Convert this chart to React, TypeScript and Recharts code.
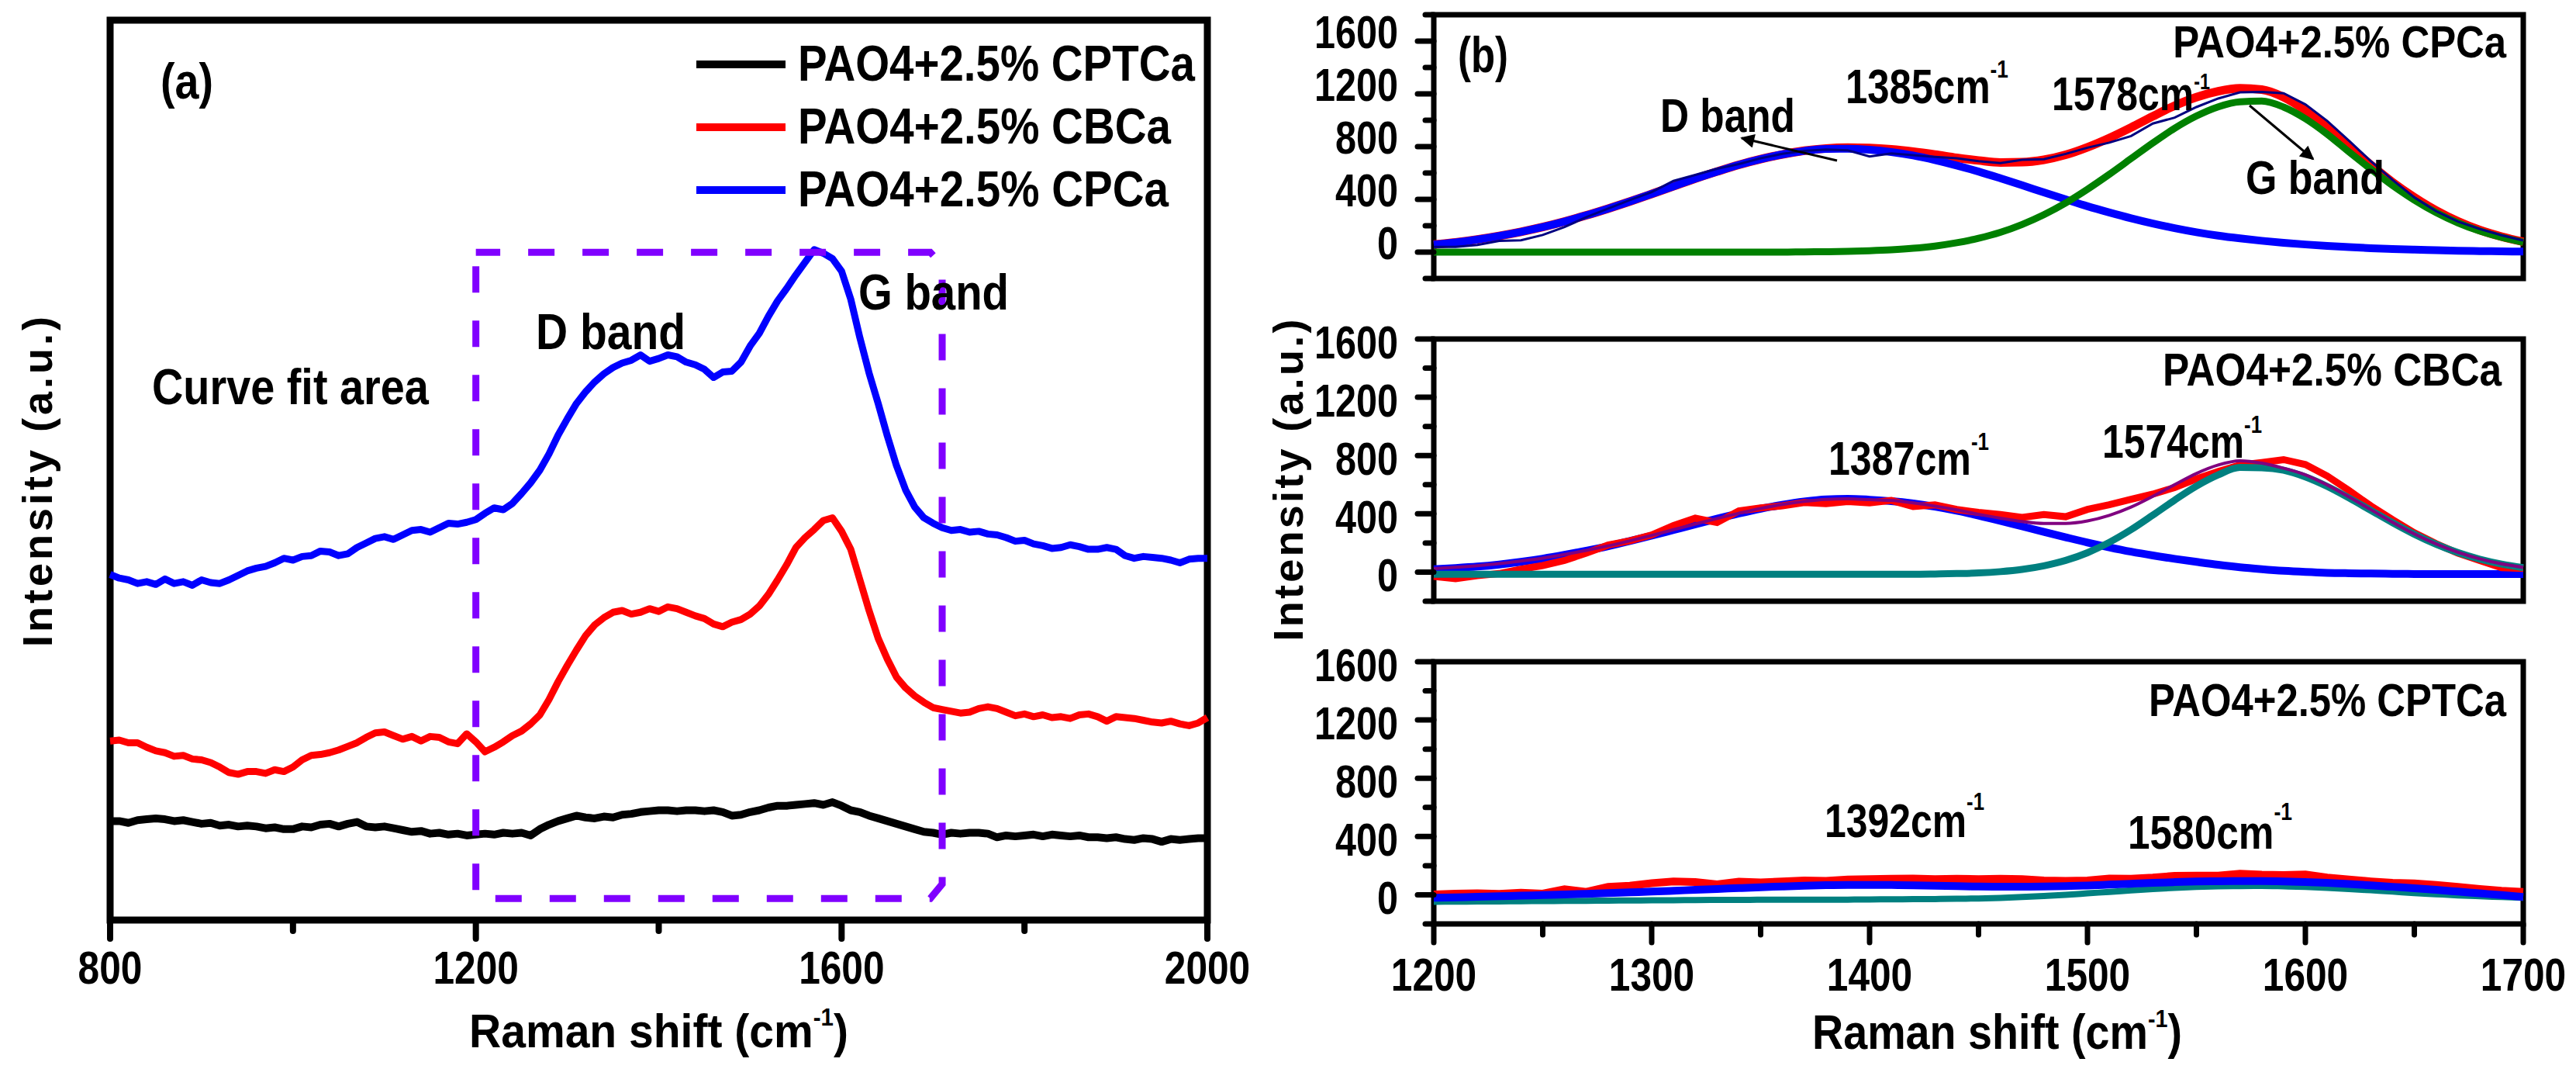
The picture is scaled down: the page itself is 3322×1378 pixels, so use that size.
import React from "react";
import { LineChart, Line, XAxis, YAxis, ReferenceArea, Legend } from "recharts";

const FONT = "'Liberation Sans', Arial, Helvetica, sans-serif";

// ---------- panel (a): full Raman spectra ----------
const shiftA = [
  800, 810, 820, 830, 840, 850, 860, 870, 880, 890,
  900, 910, 920, 930, 940, 950, 960, 970, 980, 990,
  1000, 1010, 1020, 1030, 1040, 1050, 1060, 1070, 1080, 1090,
  1100, 1110, 1120, 1130, 1140, 1150, 1160, 1170, 1180, 1190,
  1200, 1210, 1220, 1230, 1240, 1250, 1260, 1270, 1280, 1290,
  1300, 1310, 1320, 1330, 1340, 1350, 1360, 1370, 1380, 1390,
  1400, 1410, 1420, 1430, 1440, 1450, 1460, 1470, 1480, 1490,
  1500, 1510, 1520, 1530, 1540, 1550, 1560, 1570, 1580, 1590,
  1600, 1610, 1620, 1630, 1640, 1650, 1660, 1670, 1680, 1690,
  1700, 1710, 1720, 1730, 1740, 1750, 1760, 1770, 1780, 1790,
  1800, 1810, 1820, 1830, 1840, 1850, 1860, 1870, 1880, 1890,
  1900, 1910, 1920, 1930, 1940, 1950, 1960, 1970, 1980, 1990, 2000,
];

const cptcaA = [
  110, 110, 108, 111, 112, 113, 112, 110, 111, 109,
  107, 108, 105, 106, 104, 105, 104, 102, 103, 101,
  101, 104, 103, 106, 107, 104, 107, 109, 104, 103,
  104, 102, 100, 98, 99, 96, 97, 95, 96, 94,
  95, 96, 95, 97, 96, 97, 94, 101, 106, 110,
  113, 116, 114, 113, 115, 114, 117, 118, 120, 121,
  122, 122, 121, 122, 122, 121, 122, 120, 116, 117,
  120, 122, 125, 127, 127, 128, 129, 130, 128, 131,
  127, 122, 120, 116, 113, 110, 107, 104, 101, 98,
  97, 95, 97, 96, 97, 97, 96, 92, 94, 93,
  94, 95, 93, 95, 94, 93, 94, 92, 92, 91,
  92, 90, 89, 91, 90, 87, 90, 89, 90, 91, 91,
];

const cbcaA = [
  199, 200, 197, 197, 192, 188, 186, 182, 183, 179,
  178, 175, 170, 164, 162, 165, 165, 163, 167, 165,
  170, 178, 183, 184, 186, 189, 193, 197, 203, 208,
  209, 205, 201, 204, 199, 204, 203, 198, 196, 207,
  198, 187, 192, 198, 205, 210, 218, 228, 245, 265,
  283, 300, 316, 328, 336, 342, 344, 340, 342, 346,
  343, 348, 346, 342, 338, 335, 329, 326, 331, 334,
  340, 349, 362, 378, 395, 414, 425, 434, 444, 447,
  432, 412, 378, 344, 313, 290, 270, 258, 249, 242,
  236, 234, 232, 230, 231, 235, 237, 235, 231, 227,
  229, 226, 228, 225, 226, 224, 228, 229, 226, 221,
  226, 225, 224, 222, 220, 219, 221, 218, 216, 219, 225,
];

const cpcaA = [
  384, 380, 378, 374, 376, 373, 379, 374, 376, 372,
  378, 375, 374, 378, 383, 388, 391, 393, 397, 402,
  400, 404, 405, 410, 409, 405, 407, 414, 419, 424,
  426, 423, 428, 433, 434, 431, 436, 441, 440, 442,
  445, 452, 458, 456, 463, 474, 486, 500, 518, 539,
  557, 574, 587, 598, 607, 614, 619, 622, 628, 621,
  624, 628, 626, 620, 617, 612, 603, 609, 610, 620,
  638, 652, 671, 688, 702, 717, 731, 745, 741, 735,
  721, 690, 647, 608, 574, 538, 505, 478, 459, 447,
  441, 436, 433, 434, 431, 432, 429, 428, 425, 421,
  422, 418, 416, 413, 414, 417, 415, 412, 412, 414,
  412, 405, 402, 404, 403, 402, 400, 397, 401, 402, 402,
];

// outline of the fitted window (chamfered on the right)
const boxShift = [1200, 1200, 1697, 1710, 1710, 1697, 1200];
const boxLevel = [742, 24, 24, 40, 728, 742, 742];

const ticksA = [800, 1000, 1200, 1400, 1600, 1800, 2000];

const seriesA = [
  { key: "cptca", name: "PAO4+2.5% CPTCa", color: "#000000", width: 10, legendW: 512 },
  { key: "cbca", name: "PAO4+2.5% CBCa", color: "#ff0000", width: 9, legendW: 481 },
  { key: "cpca", name: "PAO4+2.5% CPCa", color: "#0000ff", width: 9, legendW: 478 },
];

const rowsA = shiftA.map((x, i) => ({ x, cptca: cptcaA[i], cbca: cbcaA[i], cpca: cpcaA[i] }));
const boxRows = boxShift.map((x, i) => ({ x, y: boxLevel[i] }));

// ---------- panel (b): curve-fitted D and G bands ----------
const shiftB = [
  1200, 1210, 1220, 1230, 1240, 1250, 1260, 1270, 1280, 1290,
  1300, 1310, 1320, 1330, 1340, 1350, 1360, 1370, 1380, 1390,
  1400, 1410, 1420, 1430, 1440, 1450, 1460, 1470, 1480, 1490,
  1500, 1510, 1520, 1530, 1540, 1550, 1560, 1570, 1580, 1590,
  1600, 1610, 1620, 1630, 1640, 1650, 1660, 1670, 1680, 1690, 1700,
];
const ticksB = [1200, 1250, 1300, 1350, 1400, 1450, 1500, 1550, 1600, 1650, 1700];

// CPCa
const cpcaRaw = [
  40, 40, 55, 85, 90, 130, 190, 265, 330, 395,
  455, 540, 585, 632, 668, 712, 745, 768, 778, 772,
  725, 748, 735, 722, 712, 690, 675, 700, 705, 745,
  792, 830, 880, 975, 1020, 1100, 1165, 1212, 1215, 1205,
  1120, 995, 845, 690, 548, 415, 310, 232, 176, 128, 88,
];
const cpcaFit = [
  57, 74, 96, 123, 154, 190, 232, 279, 330, 384,
  441, 499, 557, 611, 662, 705, 741, 769, 786, 792,
  789, 779, 762, 740, 715, 695, 680, 682, 700, 738,
  795, 865, 945, 1030, 1110, 1175, 1220, 1242, 1232, 1175,
  1075, 948, 802, 662, 530, 415, 316, 234, 168, 118, 79,
];
const cpcaD = [
  57, 74, 96, 123, 154, 190, 232, 279, 330, 384,
  441, 499, 557, 611, 662, 705, 741, 767, 783, 784,
  776, 759, 733, 698, 657, 611, 560, 507, 453, 400,
  348, 301, 257, 217, 182, 151, 125, 104, 86, 71,
  58, 47, 38, 30, 24, 19, 15, 11, 8, 6, 4,
];
const cpcaG = [
  0, 0, 0, 0, 0, 0, 0, 0, 0, 0,
  0, 0, 0, 0, 0, 0, 0, 2, 3, 6,
  11, 18, 29, 46, 71, 105, 150, 210, 284, 373,
  477, 590, 709, 828, 939, 1032, 1102, 1140, 1145, 1100,
  1012, 895, 760, 630, 505, 395, 300, 222, 160, 112, 75,
];

// CBCa
const cbcaRaw = [
  -30, -45, -25, -10, 20, 45, 80, 130, 185, 215,
  255, 320, 370, 340, 420, 440, 455, 478, 470, 484,
  475, 492, 450, 462, 430, 410, 395, 375, 395, 380,
  430, 462, 500, 535, 580, 640, 690, 735, 752, 772,
  738, 660, 560, 455, 360, 270, 195, 130, 80, 30, 25,
];
const cbcaFit = [
  24, 33, 44, 58, 76, 96, 121, 149, 180, 215,
  252, 291, 330, 368, 404, 437, 464, 485, 499, 503,
  497, 492, 475, 453, 427, 397, 370, 347, 334, 334,
  351, 389, 446, 520, 600, 677, 735, 764, 748, 713,
  668, 598, 516, 429, 342, 262, 193, 136, 91, 57, 32,
];
const cbcaD = [
  20, 28, 38, 52, 70, 92, 118, 147, 178, 213,
  250, 289, 328, 366, 402, 435, 462, 484, 499, 503,
  497, 487, 471, 449, 421, 388, 352, 314, 276, 239,
  203, 170, 140, 114, 91, 70, 50, 33, 20, 9,
  1, -5, -8, -10, -12, -13, -13, -13, -13, -13, -13,
];
const cbcaG = [
  -15, -15, -15, -15, -15, -15, -15, -15, -15, -15,
  -15, -15, -15, -15, -15, -15, -15, -15, -15, -15,
  -15, -15, -15, -13, -10, -6, 3, 18, 43, 80,
  133, 204, 291, 391, 494, 590, 667, 718, 716, 699,
  653, 588, 509, 424, 339, 260, 191, 134, 89, 55, 30,
];

// CPTCa
const cptcaRaw = [
  3, 8, 10, 6, 14, 8, 38, 20, 55, 62,
  80, 92, 88, 72, 90, 85, 92, 98, 96, 105,
  108, 110, 112, 108, 110, 108, 110, 108, 98, 96,
  98, 112, 110, 118, 130, 132, 132, 145, 138, 136,
  140, 118, 105, 92, 82, 78, 68, 55, 40, 28, 20,
];
const cptcaFit = [
  -20, -17, -14, -10, -6, -2, 2, 7, 12, 17,
  22, 28, 34, 40, 46, 52, 57, 62, 66, 68,
  68, 67, 65, 62, 59, 57, 56, 56, 57, 60,
  64, 70, 76, 82, 87, 91, 93, 94, 94, 92,
  88, 82, 74, 65, 55, 45, 34, 22, 10, -2, -15,
];
const cptcaG = [
  -48, -47, -46, -45, -44, -43, -42, -41, -40, -39,
  -38, -37, -36, -35, -35, -34, -34, -34, -33, -33,
  -32, -31, -30, -29, -27, -25, -21, -15, -8, 0,
  10, 20, 30, 40, 48, 54, 58, 60, 61, 58,
  54, 48, 40, 31, 22, 12, 4, -4, -10, -15, -20,
];

const rowsB1 = shiftB.map((x, i) => ({ x, raw: cpcaRaw[i], fit: cpcaFit[i], d: cpcaD[i], g: cpcaG[i] }));
const rowsB2 = shiftB.map((x, i) => ({ x, raw: cbcaRaw[i], fit: cbcaFit[i], d: cbcaD[i], g: cbcaG[i] }));
const rowsB3 = shiftB.map((x, i) => ({ x, raw: cptcaRaw[i], fit: cptcaFit[i], g: cptcaG[i] }));

const ticksY1 = [-200, 0, 200, 400, 600, 800, 1000, 1200, 1400, 1600, 1800];
const ticksY2 = [-200, 0, 200, 400, 600, 800, 1000, 1200, 1400, 1600];

// ---------- text helpers ----------
// the figure uses a tall, condensed bold face: draw Liberation Sans Bold and squeeze it horizontally
let measureCtx: CanvasRenderingContext2D | null = null;
function textWidth(t: string, size: number) {
  if (typeof document !== "undefined") {
    if (!measureCtx) measureCtx = document.createElement("canvas").getContext("2d");
    if (measureCtx) {
      measureCtx.font = `700 ${size}px 'Liberation Sans', Arial, sans-serif`;
      return measureCtx.measureText(t).width;
    }
  }
  return t.length * size * 0.56;
}

type Part = { t: string; size?: number; dy?: number };

function CText(props: { x: number; y: number; w: number; size?: number; anchor?: "start" | "middle" | "end"; parts: Part[] }) {
  const { x, y, w, size = 62, anchor = "start", parts } = props;
  const natural = parts.reduce((s, p) => s + textWidth(p.t, p.size ?? size), 0);
  const sx = natural > 0 ? w / natural : 1;
  return (
    <text
      transform={`translate(${x} ${y}) scale(${sx.toFixed(4)} 1)`}
      x={0}
      y={0}
      textAnchor={anchor}
      fontFamily={FONT}
      fontWeight={700}
      fontSize={size}
      fill="#000"
    >
      {parts.map((p, i) => (
        <tspan key={i} fontSize={p.size ?? size} dy={p.dy ?? 0}>
          {p.t}
        </tspan>
      ))}
    </text>
  );
}

const T = (p: { x: number; y: number; w: number; size?: number; anchor?: "start" | "middle" | "end"; children: string }) => (
  <CText x={p.x} y={p.y} w={p.w} size={p.size} anchor={p.anchor} parts={[{ t: p.children }]} />
);

// wavenumber label such as 1385cm^-1
const Wn = (p: { x: number; y: number; w: number; text: string; rise: number; sup?: number }) => (
  <CText x={p.x} y={p.y} w={p.w} parts={[{ t: p.text }, { t: "-1", size: p.sup ?? 32, dy: -p.rise }]} />
);

const axisTitle = (rise: number): Part[] => [
  { t: "Raman shift (cm" },
  { t: "-1", size: 32, dy: -rise },
  { t: ")", dy: rise },
];

// ---------- axis ticks ----------
const makeBottomTick = (majorEvery: number, majorLen: number, minorLen: number, sw: number, labelDy: number) =>
  (props: any) => {
    const { x, y, payload } = props;
    const v = payload.value as number;
    const major = v % majorEvery === 0;
    const label = String(v);
    return (
      <g>
        <line x1={x} y1={y} x2={x} y2={y + (major ? majorLen : minorLen)} stroke="#000" strokeWidth={sw} strokeLinecap="round" />
        {major && <T x={x} y={y + labelDy} w={label.length * 27.6} size={60} anchor="middle">{label}</T>}
      </g>
    );
  };

const makeLeftTick = (labelDy: number) =>
  (props: any) => {
    const { x, y, payload } = props;
    const v = payload.value as number;
    const major = v >= 0 && v % 400 === 0;
    const label = String(v);
    return (
      <g>
        <line x1={x} y1={y} x2={x - (major ? 21 : 11)} y2={y} stroke="#000" strokeWidth={7} strokeLinecap="round" />
        {major && <T x={x - 46} y={y + labelDy} w={label.length * 27} size={60} anchor="end">{label}</T>}
      </g>
    );
  };

const tickA = makeBottomTick(400, 24, 14, 8, 82);
const tickB = makeBottomTick(100, 24, 14, 7, 86);
const tickY1 = makeLeftTick(9);
const tickY2 = makeLeftTick(25);

const legendA = () => (
  <svg width={720} height={250} style={{ overflow: "visible", display: "block" }}>
    {seriesA.map((s, i) => (
      <g key={s.key}>
        <line x1={18} x2={133} y1={43 + i * 81} y2={43 + i * 81} stroke={s.color} strokeWidth={10} />
        <T x={149} y={64 + i * 81} w={s.legendW} size={64}>{s.name}</T>
      </g>
    ))}
  </svg>
);

const Abs = (p: { left: number; top: number; children: React.ReactNode }) => (
  <div style={{ position: "absolute", left: p.left, top: p.top }}>{p.children}</div>
);

const noDots = { dot: false as const, activeDot: false as const, isAnimationActive: false };

export default function App() {
  return (
    <div style={{ position: "absolute", left: 0, top: 0, width: 3322, height: 1378, background: "#fff", overflow: "hidden" }}>
      {/* (a) */}
      <Abs left={0} top={0}>
        <LineChart width={1640} height={1378} data={rowsA} margin={{ top: 26, right: 83, bottom: 0, left: 142 }}>
          <XAxis
            dataKey="x"
            type="number"
            domain={[800, 2000]}
            ticks={ticksA}
            interval={0}
            height={192}
            axisLine={false}
            tickLine={false}
            tickSize={0}
            tickMargin={0}
            tick={tickA}
          />
          <YAxis type="number" domain={[0, 1000]} hide />
          <ReferenceArea x1={800} x2={2000} y1={0} y2={1000} fill="none" stroke="#000" strokeWidth={9} />
          {seriesA.map((s) => (
            <Line
              key={s.key}
              dataKey={s.key}
              name={s.name}
              type="linear"
              stroke={s.color}
              strokeWidth={s.width}
              strokeLinejoin="round"
              {...noDots}
            />
          ))}
          <Line
            data={boxRows}
            dataKey="y"
            type="linear"
            stroke="#8000ff"
            strokeWidth={9}
            strokeDasharray="34 36"
            strokeDashoffset={52}
            legendType="none"
            {...noDots}
          />
          <Legend
            layout="vertical"
            align="center"
            verticalAlign="middle"
            wrapperStyle={{ left: 880, top: 40, width: 720, height: 250 }}
            content={legendA}
          />
        </LineChart>
      </Abs>

      {/* (b) CPCa */}
      <Abs left={1640} top={0}>
        <LineChart width={1682} height={400} data={rowsB1} margin={{ top: 19, right: 68, bottom: 41, left: 0 }}>
          <XAxis dataKey="x" type="number" domain={[1200, 1700]} hide />
          <YAxis
            type="number"
            domain={[-200, 1800]}
            ticks={ticksY1}
            interval={0}
            width={209}
            axisLine={false}
            tickLine={false}
            tickSize={0}
            tickMargin={0}
            tick={tickY1}
          />
          <ReferenceArea x1={1200} x2={1700} y1={-200} y2={1800} fill="none" stroke="#000" strokeWidth={7} />
          <Line dataKey="fit" type="monotone" stroke="#ff0000" strokeWidth={11} {...noDots} />
          <Line dataKey="d" type="monotone" stroke="#0000ff" strokeWidth={10} {...noDots} />
          <Line dataKey="g" type="monotone" stroke="#008000" strokeWidth={9} {...noDots} />
          <Line dataKey="raw" type="linear" stroke="#000080" strokeWidth={3} {...noDots} />
        </LineChart>
      </Abs>

      {/* (b) CBCa */}
      <Abs left={1640} top={400}>
        <LineChart width={1682} height={400} data={rowsB2} margin={{ top: 37, right: 68, bottom: 25, left: 0 }}>
          <XAxis dataKey="x" type="number" domain={[1200, 1700]} hide />
          <YAxis
            type="number"
            domain={[-200, 1600]}
            ticks={ticksY2}
            interval={0}
            width={209}
            axisLine={false}
            tickLine={false}
            tickSize={0}
            tickMargin={0}
            tick={tickY2}
          />
          <ReferenceArea x1={1200} x2={1700} y1={-200} y2={1600} fill="none" stroke="#000" strokeWidth={7} />
          <Line dataKey="d" type="monotone" stroke="#0000ff" strokeWidth={10} {...noDots} />
          <Line dataKey="raw" type="linear" stroke="#ff0000" strokeWidth={9} {...noDots} />
          <Line dataKey="g" type="monotone" stroke="#008080" strokeWidth={9} {...noDots} />
          <Line dataKey="fit" type="monotone" stroke="#800080" strokeWidth={4} {...noDots} />
        </LineChart>
      </Abs>

      {/* (b) CPTCa */}
      <Abs left={1640} top={800}>
        <LineChart width={1682} height={578} data={rowsB3} margin={{ top: 53, right: 68, bottom: 0, left: 0 }}>
          <XAxis
            dataKey="x"
            type="number"
            domain={[1200, 1700]}
            ticks={ticksB}
            interval={0}
            height={187}
            axisLine={false}
            tickLine={false}
            tickSize={0}
            tickMargin={0}
            tick={tickB}
          />
          <YAxis
            type="number"
            domain={[-200, 1600]}
            ticks={ticksY2}
            interval={0}
            width={209}
            axisLine={false}
            tickLine={false}
            tickSize={0}
            tickMargin={0}
            tick={tickY2}
          />
          <ReferenceArea x1={1200} x2={1700} y1={-200} y2={1600} fill="none" stroke="#000" strokeWidth={7} />
          <Line dataKey="raw" type="linear" stroke="#ff0000" strokeWidth={10} {...noDots} />
          <Line dataKey="g" type="monotone" stroke="#008080" strokeWidth={8} {...noDots} />
          <Line dataKey="fit" type="monotone" stroke="#0000ff" strokeWidth={10} {...noDots} />
        </LineChart>
      </Abs>

      {/* annotations */}
      <svg width={3322} height={1378} style={{ position: "absolute", left: 0, top: 0, pointerEvents: "none" }}>
        <defs>
          <marker id="arrowHead" viewBox="0 0 10 10" refX={9} refY={5} markerWidth={8} markerHeight={6} orient="auto" markerUnits="strokeWidth">
            <path d="M0,0 L10,5 L0,10 z" fill="#000" />
          </marker>
        </defs>

        {/* (a) */}
        <T x={207} y={127} w={68} size={64}>(a)</T>
        <T x={196} y={521} w={357} size={64}>Curve fit area</T>
        <T x={691} y={450} w={193} size={64}>D band</T>
        <T x={1107} y={399} w={194} size={64}>G band</T>
        <text
          x={67}
          y={621}
          fontFamily={FONT}
          fontWeight={700}
          fontSize={54}
          textAnchor="middle"
          textLength={426}
          lengthAdjust="spacing"
          transform="rotate(-90 67 621)"
        >
          Intensity (a.u.)
        </text>
        <CText x={605} y={1350} w={489} parts={axisTitle(28)} />

        {/* (b) */}
        <T x={1880} y={93} w={65} size={64}>(b)</T>
        <text
          x={1680}
          y={619}
          fontFamily={FONT}
          fontWeight={700}
          fontSize={54}
          textAnchor="middle"
          textLength={415}
          lengthAdjust="spacing"
          transform="rotate(-90 1680 619)"
        >
          Intensity (a.u.)
        </text>
        <CText x={2337} y={1352} w={477} parts={axisTitle(28)} />

        <T x={3232} y={74} w={430} size={58} anchor="end">PAO4+2.5% CPCa</T>
        <Wn x={2380} y={133} w={210} text="1385cm" rise={33} />
        <Wn x={2646} y={142} w={204} text="1578cm" rise={27} sup={29} />
        <T x={2141} y={170} w={174}>D band</T>
        <T x={2896} y={250} w={179}>G band</T>
        <line x1={2369} y1={207} x2={2246} y2={178} stroke="#000" strokeWidth={3} markerEnd="url(#arrowHead)" />
        <line x1={2901} y1={136} x2={2983} y2={205} stroke="#000" strokeWidth={3} markerEnd="url(#arrowHead)" />

        <T x={3226} y={497} w={437} size={60} anchor="end">PAO4+2.5% CBCa</T>
        <Wn x={2358} y={612} w={207} text="1387cm" rise={32} />
        <Wn x={2711} y={590} w={206} text="1574cm" rise={32} />

        <T x={3232} y={923} w={461} size={60} anchor="end">PAO4+2.5% CPTCa</T>
        <Wn x={2353} y={1079} w={206} text="1392cm" rise={35} />
        <Wn x={2744} y={1094} w={212} text="1580cm" rise={37} />
      </svg>
    </div>
  );
}
